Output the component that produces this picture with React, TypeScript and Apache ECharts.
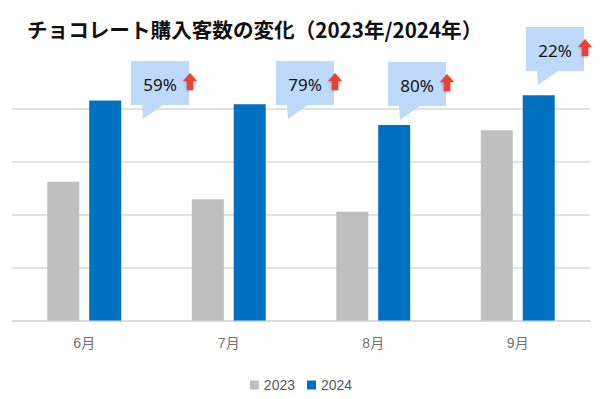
import React, { useEffect, useRef } from "react";
import * as echarts from "echarts";

const categories = ["6月", "7月", "8月", "9月"];
const seriesNames = ["2023", "2024"];
const values2023 = [262, 229, 205, 359];
const values2024 = [415, 408, 369, 425];
const growthLabels = ["59%", "79%", "80%", "22%"];
const titleText = "チョコレート購入客数の変化（2023年/2024年）";

// callout top-left corners (layout)
const calloutPos = [
  [131, 61],
  [276, 61],
  [388, 62],
  [526, 27],
];

const W = 602;
const H = 399;

function buildCallouts() {
  const els: any[] = [];
  calloutPos.forEach(([x, y], i) => {
    const w = 58;
    const h = 44;
    els.push({
      type: "polygon",
      z: 10,
      shape: {
        points: [
          [x, y],
          [x + w, y],
          [x + w, y + h],
          [x + 32, y + h],
          [x + 12, y + h + 14],
          [x + 11, y + h],
          [x, y + h],
        ],
      },
      style: { fill: "#bddafa" },
    });
    els.push({
      type: "text",
      z: 11,
      x: x + 29,
      y: y + 23,
      style: {
        text: growthLabels[i],
        fill: "#111111",
        font: '17px "Noto Sans", sans-serif',
        align: "center",
        verticalAlign: "middle",
      },
    });
    const ax = x + 52;
    const ay = y + 12;
    els.push({
      type: "polygon",
      z: 12,
      shape: {
        points: [
          [ax + 7, ay],
          [ax + 14, ay + 8],
          [ax + 10.3, ay + 8],
          [ax + 10.3, ay + 17],
          [ax + 3.7, ay + 17],
          [ax + 3.7, ay + 8],
          [ax, ay + 8],
        ],
      },
      style: {
        fill: "#ef4136",
        shadowBlur: 2,
        shadowColor: "rgba(0,0,0,0.3)",
        shadowOffsetY: 1,
      },
    });
  });
  return els;
}

export default function App() {
  const ref = useRef<HTMLDivElement>(null);
  useEffect(() => {
    if (!ref.current) return;
    const chart = echarts.init(ref.current, undefined, { renderer: "svg" });
    chart.setOption({
      animation: false,
      backgroundColor: "#ffffff",
      title: {
        text: titleText,
        left: 22,
        top: 14,
        textStyle: {
          fontFamily: '"Noto Sans CJK JP", sans-serif',
          fontWeight: "bold",
          fontSize: 20.6,
          color: "#111111",
        },
      },
      legend: {
        data: seriesNames,
        left: "center",
        top: 373,
        itemWidth: 9,
        itemHeight: 9,
        itemGap: 12,
        icon: "rect",
        textStyle: {
          fontFamily: '"Liberation Sans", "Noto Sans CJK JP", sans-serif',
          fontSize: 14,
          color: "#595959",
        },
      },
      grid: {
        left: 12,
        right: 12,
        top: 108.5,
        bottom: H - 320.5,
        containLabel: false,
      },
      xAxis: {
        type: "category",
        data: categories,
        axisLine: { show: true, lineStyle: { color: "#d9d9d9", width: 1.5 } },
        axisTick: { show: false },
        axisLabel: {
          margin: 15,
          fontSize: 14,
          color: "#707070",
          fontFamily: '"Liberation Sans", "Noto Sans CJK JP", sans-serif',
        },
      },
      yAxis: {
        type: "value",
        min: 0,
        max: 400,
        interval: 100,
        axisLabel: { show: false },
        axisLine: { show: false },
        axisTick: { show: false },
        splitLine: { show: true, lineStyle: { color: "#d9d9d9", width: 1.5 } },
      },
      series: [
        {
          name: seriesNames[0],
          type: "bar",
          data: values2023,
          barWidth: 32,
          barGap: "31%",
          clip: false,
          itemStyle: { color: "#bfbfbf" },
        },
        {
          name: seriesNames[1],
          type: "bar",
          data: values2024,
          barWidth: 32,
          barGap: "31%",
          clip: false,
          itemStyle: { color: "#0070c0" },
        },
      ],
      graphic: buildCallouts(),
    });
    return () => chart.dispose();
  }, []);
  return (
    <div
      ref={ref}
      style={{ position: "fixed", left: 0, top: 0, width: W, height: H, background: "#fff" }}
    />
  );
}
